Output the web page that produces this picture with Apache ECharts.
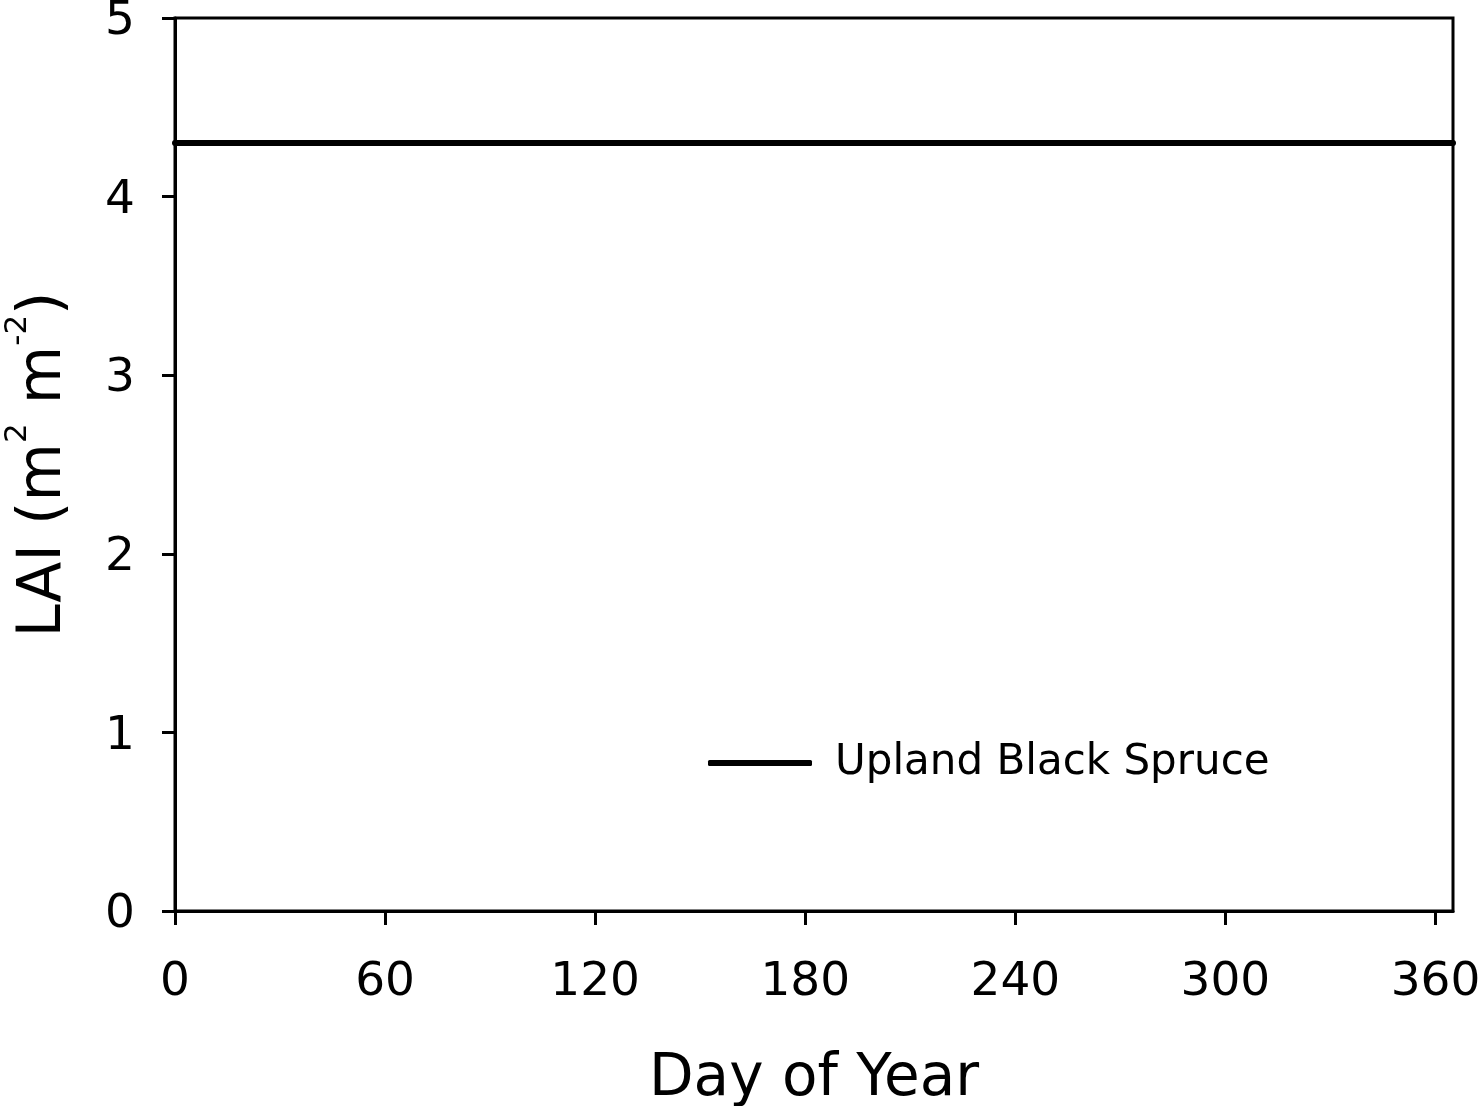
<!DOCTYPE html>
<html>
<head>
<meta charset="utf-8">
<script src="https://cdn.jsdelivr.net/npm/echarts@6/dist/echarts.min.js"></script>
<style>
html,body{margin:0;padding:0;background:#fff;}
#chart{width:1480px;height:1106px;}
</style>
</head>
<body>
<div id="chart"></div>
<script>
const days = [0, 365];
const laiUplandBlackSpruce = [4.3, 4.3];
const xTicks = [0, 60, 120, 180, 240, 300, 360];
const yTicks = [0, 1, 2, 3, 4, 5];
const seriesName = 'Upland Black Spruce';

const FONT = 'DejaVu Sans';
const chart = echarts.init(document.getElementById('chart'));
chart.setOption({
  backgroundColor: '#fff',
  animation: false,
  textStyle: {fontFamily: FONT, color: '#000'},
  grid: {left: 175, right: 27, top: 18, bottom: 195, containLabel: false, outerBoundsMode: 'none',
    show: true, borderColor: '#000', borderWidth: 3, backgroundColor: 'transparent'},
  legend: {
    left: 708, top: 742, padding: 0,
    data: [{name: seriesName, icon: 'roundRect'}],
    itemWidth: 104, itemHeight: 6,
    textStyle: {fontFamily: FONT, fontSize: 42, color: '#000', padding: [0, 0, 0, 18]},
    itemStyle: {color: '#000'}
  },
  xAxis: {
    type: 'value', min: 0, max: 365,
    name: 'Day of Year', nameLocation: 'middle', nameGap: 140,
    nameTextStyle: {fontFamily: FONT, fontSize: 58, color: '#000'},
    axisLine: {lineStyle: {color: '#000', width: 3}},
    axisTick: {show: true, inside: false, length: 14, lineStyle: {color: '#000', width: 3}, customValues: xTicks},
    axisLabel: {fontFamily: FONT, fontSize: 47, color: '#000', margin: 48, customValues: xTicks},
    splitLine: {show: false}
  },
  yAxis: {
    type: 'value', min: 0, max: 5, interval: 1,
    name: '{base|LAI (m}{sup|2}{base| m}{sup|-2}{base|)}', nameLocation: 'middle', nameGap: 89, nameRotate: 90,
    nameTextStyle: {fontFamily: FONT, fontSize: 60, color: '#000',
      rich: {
        base: {fontFamily: FONT, fontSize: 60, color: '#000', lineHeight: 84},
        sup: {fontFamily: FONT, fontSize: 31, color: '#000', verticalAlign: 'top', lineHeight: 30}
      }},
    axisLine: {lineStyle: {color: '#000', width: 3}},
    axisTick: {show: true, inside: false, length: 13, lineStyle: {color: '#000', width: 3}, customValues: yTicks},
    axisLabel: {fontFamily: FONT, fontSize: 47, color: '#000', margin: 40, customValues: yTicks,
      formatter: function (v) { return '{v|' + v + '}'; },
      rich: {v: {fontFamily: FONT, fontSize: 47, color: '#000', lineHeight: 47, padding: [8, 0, 0, 0]}}},
    splitLine: {show: false}
  },
  series: [{
    name: seriesName, type: 'line',
    data: days.map((d, i) => [d, laiUplandBlackSpruce[i]]),
    showSymbol: false, symbol: 'none',
    lineStyle: {color: '#000', width: 6, cap: 'round'},
    itemStyle: {color: '#000'}
  }]
});
</script>
</body>
</html>
